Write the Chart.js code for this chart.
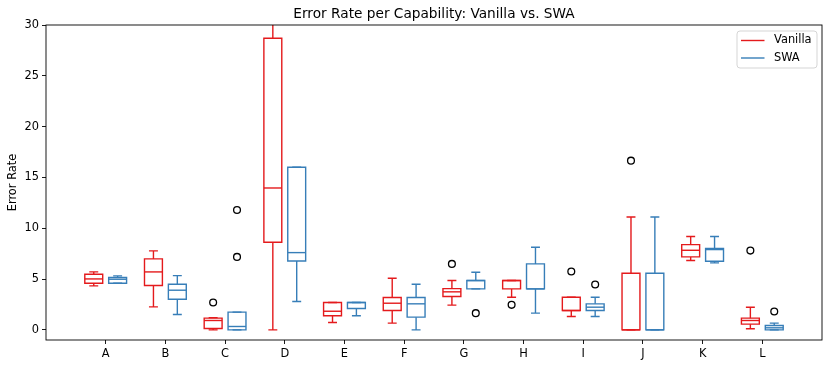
<!DOCTYPE html>
<html>
<head>
<meta charset="utf-8">
<script src="https://cdn.jsdelivr.net/npm/chart.js@4/dist/chart.umd.min.js"></script>
<style>
  html, body { margin: 0; padding: 0; background: #ffffff; }
  #wrap { width: 831px; height: 368px; }
</style>
</head>
<body>
<div id="wrap"><canvas id="c" width="831" height="368"></canvas></div>
<script>
// ---- data ----
const categories = ['A','B','C','D','E','F','G','H','I','J','K','L'];
const seriesNames = ['Vanilla', 'SWA'];

const vanillaLow  = [4.33, 2.26, 0.00, 0.00, 0.72, 0.66, 2.43, 3.21, 1.31, 0.00, 6.82, 0.10];
const vanillaQ1   = [4.59, 4.36, 0.13, 8.62, 1.38, 1.90, 3.28, 4.03, 1.90, 0.00, 7.18, 0.56];
const vanillaMed  = [5.01, 5.70, 0.92, 13.96, 1.83, 2.62, 3.74, 4.85, 1.90, 0.00, 7.83, 0.92];
const vanillaQ3   = [5.47, 6.98, 1.15, 28.70, 2.69, 3.18, 4.06, 4.85, 3.21, 5.57, 8.39, 1.15];
const vanillaHigh = [5.70, 7.77, 1.20, 35.00, 2.69, 5.08, 4.85, 4.85, 3.21, 11.11, 9.18, 2.23];
const vanillaOutliers = [[], [], [2.69], [], [], [], [6.49], [2.46], [5.74], [16.65], [], [7.80]];

const swaLow  = [4.59, 1.51, 0.00, 2.79, 1.38, 0.00, 4.03, 1.64, 1.31, 0.00, 6.59, 0.00];
const swaQ1   = [4.59, 3.01, 0.00, 6.78, 2.10, 1.25, 4.03, 4.03, 1.90, 0.00, 6.75, 0.00];
const swaMed  = [4.98, 3.90, 0.33, 7.60, 2.69, 2.56, 4.85, 4.03, 2.23, 0.00, 7.90, 0.20];
const swaQ3   = [5.15, 4.49, 1.74, 16.00, 2.69, 3.18, 4.85, 6.49, 2.56, 5.57, 8.00, 0.43];
const swaHigh = [5.31, 5.34, 1.74, 16.00, 2.69, 4.49, 5.67, 8.13, 3.21, 11.11, 9.18, 0.66];
const swaOutliers = [[], [], [7.18, 11.80], [], [], [], [1.64], [], [4.46], [], [], [1.80]];

const yTicks = [0, 5, 10, 15, 20, 25, 30];

// ---- styling ----
const colors = ['#e41a1c', '#377eb8'];
const offsets = [-0.2, 0.2];
const boxHalf = 0.15;
const capHalf = 0.075;
const FONT = "'DejaVu Sans', sans-serif";

const boxStats = [
  { low: vanillaLow, q1: vanillaQ1, med: vanillaMed, q3: vanillaQ3, high: vanillaHigh, out: vanillaOutliers },
  { low: swaLow, q1: swaQ1, med: swaMed, q3: swaQ3, high: swaHigh, out: swaOutliers }
];

function outlierPoints(outs, off) {
  const pts = [];
  outs.forEach((arr, i) => arr.forEach(v => pts.push({ x: i + 1 + off, y: v })));
  return pts;
}

const datasets = boxStats.map((s, k) => ({
  type: 'scatter',
  label: seriesNames[k] + ' outliers',
  data: outlierPoints(s.out, offsets[k]),
  pointRadius: 3.4,
  pointHoverRadius: 3.4,
  pointBorderWidth: 1.3,
  pointBorderColor: '#000000',
  pointBackgroundColor: 'rgba(0,0,0,0)',
  showLine: false
}));

const boxPlugin = {
  id: 'boxes',
  afterDatasetsDraw(chart) {
    const ctx = chart.ctx;
    const xs = chart.scales.x, ys = chart.scales.y;
    const a = chart.chartArea;
    ctx.save();
    ctx.beginPath();
    ctx.rect(a.left, a.top, a.right - a.left, a.bottom - a.top);
    ctx.clip();
    ctx.lineWidth = 1.4;
    ctx.lineCap = 'butt';
    boxStats.forEach((s, k) => {
      ctx.strokeStyle = colors[k];
      categories.forEach((c, i) => {
        const pos = i + 1 + offsets[k];
        const xc = xs.getPixelForValue(pos);
        const xl = xs.getPixelForValue(pos - boxHalf);
        const xr = xs.getPixelForValue(pos + boxHalf);
        const cl = xs.getPixelForValue(pos - capHalf);
        const cr = xs.getPixelForValue(pos + capHalf);
        const yLow = ys.getPixelForValue(s.low[i]);
        const yQ1 = ys.getPixelForValue(s.q1[i]);
        const yMed = ys.getPixelForValue(s.med[i]);
        const yQ3 = ys.getPixelForValue(s.q3[i]);
        const yHigh = ys.getPixelForValue(s.high[i]);
        ctx.beginPath();
        // whiskers
        ctx.moveTo(xc, yQ1); ctx.lineTo(xc, yLow);
        ctx.moveTo(xc, yQ3); ctx.lineTo(xc, yHigh);
        // caps
        ctx.moveTo(cl, yLow); ctx.lineTo(cr, yLow);
        ctx.moveTo(cl, yHigh); ctx.lineTo(cr, yHigh);
        ctx.stroke();
        // box
        ctx.beginPath();
        ctx.rect(xl, yQ3, xr - xl, yQ1 - yQ3);
        ctx.stroke();
        // median
        ctx.beginPath();
        ctx.moveTo(xl, yMed); ctx.lineTo(xr, yMed);
        ctx.stroke();
      });
    });
    ctx.restore();
  },
  afterDraw(chart) {
    const ctx = chart.ctx;
    const a = chart.chartArea;
    ctx.save();
    // spines
    ctx.strokeStyle = '#000000';
    ctx.lineWidth = 0.9;
    ctx.strokeRect(a.left, a.top, a.right - a.left, a.bottom - a.top);
    // title
    ctx.fillStyle = '#000000';
    ctx.font = "13.7px " + FONT;
    ctx.textAlign = 'center';
    ctx.textBaseline = 'middle';
    ctx.fillText('Error Rate per Capability: Vanilla vs. SWA', (a.left + a.right) / 2, 14);
    // legend
    const lx = 737, ly = 31, lw = 80, lh = 37, r = 3;
    ctx.beginPath();
    ctx.moveTo(lx + r, ly);
    ctx.lineTo(lx + lw - r, ly);
    ctx.quadraticCurveTo(lx + lw, ly, lx + lw, ly + r);
    ctx.lineTo(lx + lw, ly + lh - r);
    ctx.quadraticCurveTo(lx + lw, ly + lh, lx + lw - r, ly + lh);
    ctx.lineTo(lx + r, ly + lh);
    ctx.quadraticCurveTo(lx, ly + lh, lx, ly + lh - r);
    ctx.lineTo(lx, ly + r);
    ctx.quadraticCurveTo(lx, ly, lx + r, ly);
    ctx.closePath();
    ctx.fillStyle = 'rgba(255,255,255,0.8)';
    ctx.fill();
    ctx.strokeStyle = '#d0d0d0';
    ctx.lineWidth = 0.9;
    ctx.stroke();
    ctx.font = "11.4px " + FONT;
    ctx.textAlign = 'left';
    ctx.textBaseline = 'middle';
    seriesNames.forEach((name, k) => {
      const yy = 40.5 + k * 17.5;
      ctx.strokeStyle = colors[k];
      ctx.lineWidth = 1.4;
      ctx.beginPath();
      ctx.moveTo(741, yy); ctx.lineTo(764.5, yy);
      ctx.stroke();
      ctx.fillStyle = '#000000';
      ctx.fillText(name, 774, yy);
    });
    ctx.restore();
  }
};

const tickFont = { family: FONT, size: 11.4 };

new Chart(document.getElementById('c'), {
  type: 'scatter',
  data: { datasets },
  options: {
    responsive: false,
    animation: false,
    devicePixelRatio: 1,
    layout: { padding: { top: 25, right: 9, bottom: 0, left: 0 } },
    plugins: {
      legend: { display: false },
      title: { display: false },
      tooltip: { enabled: false }
    },
    scales: {
      x: {
        type: 'linear',
        min: 0,
        max: 13,
        afterBuildTicks: s => { s.ticks = categories.map((c, i) => ({ value: i + 1 })); },
        afterFit: s => { s.height = 28; },
        ticks: {
          autoSkip: false,
          maxRotation: 0,
          padding: 3,
          color: '#000000',
          font: tickFont,
          callback: v => categories[Math.round(v) - 1] || ''
        },
        grid: { display: true, drawOnChartArea: false, drawTicks: true, tickLength: 4, color: '#000000', lineWidth: 0.9 },
        border: { display: false }
      },
      y: {
        min: -1,
        max: 30,
        afterBuildTicks: s => { s.ticks = yTicks.map(v => ({ value: v })); },
        afterFit: s => { s.width = 46; },
        ticks: { padding: 3, color: '#000000', font: tickFont, callback: v => String(v) },
        grid: { display: true, drawOnChartArea: false, drawTicks: true, tickLength: 4, color: '#000000', lineWidth: 0.9 },
        border: { display: false },
        title: { display: true, text: 'Error Rate', color: '#000000', font: { family: FONT, size: 11.4 }, padding: { top: 6, bottom: 0 } }
      }
    }
  },
  plugins: [boxPlugin]
});
</script>
</body>
</html>
